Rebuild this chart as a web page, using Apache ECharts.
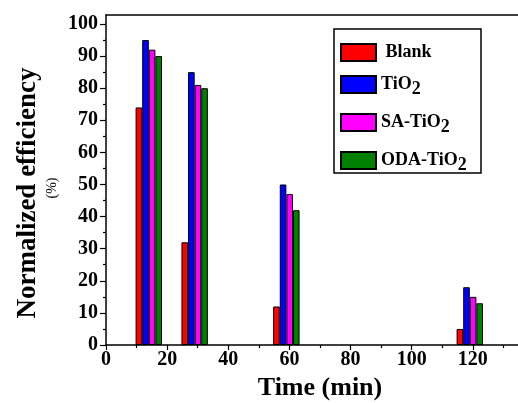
<!DOCTYPE html>
<html>
<head>
<meta charset="utf-8">
<script src="https://cdn.jsdelivr.net/npm/echarts@6/dist/echarts.min.js"></script>
<style>html,body{margin:0;padding:0;background:#fff;}#c{width:518px;height:403px;}</style>
</head>
<body>
<div id="c"></div>
<script>
// ---- data ----
const times = [14, 29, 59, 119];
const blank = [74, 32, 12, 5];
const tio2 = [95, 85, 50, 18];
const saTio2 = [92, 81, 47, 15];
const odaTio2 = [90, 80, 42, 13];
const seriesNames = ['Blank', 'TiO2', 'SA-TiO2', 'ODA-TiO2'];
const seriesColors = ['#ff0000', '#0000ff', '#ff00ff', '#008000'];
const yTicks = [0, 10, 20, 30, 40, 50, 60, 70, 80, 90, 100];
const yMinorTicks = [5, 15, 25, 35, 45, 55, 65, 75, 85, 95];
const xTickInterval = 20;

const FONT = '"Liberation Serif", "Times New Roman", serif';
const allValues = [blank, tio2, saTio2, odaTio2];

const chart = echarts.init(document.getElementById('c'), null, {renderer: 'canvas'});

function legendFmt(n) {
  if (n.endsWith('2')) return '{a|' + n.slice(0, -1) + '}{s|2}';
  return '{a| ' + n + '}';
}
const legendTops = [43, 75, 113, 151];

const option = {
  backgroundColor: '#fff',
  animation: false,
  grid: {left: 106, top: 15, width: 428, height: 330, containLabel: false, outerBoundsMode: 'none'},
  xAxis: [{
    type: 'value', min: 0, max: 140, interval: xTickInterval, position: 'bottom',
    name: 'Time (min)', nameLocation: 'middle', nameGap: 30,
    nameTextStyle: {fontFamily: FONT, fontWeight: 'bold', fontSize: 26, color: '#000'},
    axisLine: {show: true, lineStyle: {color: '#000', width: 1.5}},
    axisTick: {show: true, inside: false, length: 5, lineStyle: {color: '#000', width: 1.2}},
    minorTick: {show: true, splitNumber: 2, length: 3, lineStyle: {color: '#000', width: 1.2}},
    axisLabel: {fontFamily: FONT, fontWeight: 'bold', fontSize: 20, color: '#000', margin: 5},
    splitLine: {show: false}
  }, {
    type: 'value', min: 0, max: 140, position: 'top',
    axisLine: {show: true, onZero: false, lineStyle: {color: '#000', width: 1.5}},
    axisTick: {show: false}, axisLabel: {show: false}, splitLine: {show: false}
  }],
  yAxis: [{
    type: 'value', min: 0, max: 102.8, interval: 10, position: 'left',
    axisLine: {show: true, lineStyle: {color: '#000', width: 1.5}},
    axisTick: {show: true, inside: false, length: 6, customValues: yTicks, lineStyle: {color: '#000', width: 1.2}},
    axisLabel: {fontFamily: FONT, fontWeight: 'bold', fontSize: 20, color: '#000', margin: 8, customValues: yTicks},
    splitLine: {show: false}
  }, {
    type: 'value', min: 0, max: 102.8, position: 'left',
    axisLine: {show: false},
    axisTick: {show: true, inside: false, length: 3, customValues: yMinorTicks, lineStyle: {color: '#000', width: 1.2}},
    axisLabel: {show: false},
    splitLine: {show: false}
  }],
  legend: seriesNames.map((n, i) => ({
    data: [n], left: 340, top: legendTops[i], orient: 'vertical', padding: 0,
    itemWidth: 35, itemHeight: 17, icon: 'rect', selectedMode: false,
    formatter: legendFmt,
    textStyle: {
      color: '#000', fontFamily: FONT, fontWeight: 'bold', fontSize: 18,
      rich: {
        a: {fontFamily: FONT, fontWeight: 'bold', fontSize: 18, color: '#000'},
        s: {fontFamily: FONT, fontWeight: 'bold', fontSize: 18, color: '#000', padding: [9, 0, 0, 0]}
      }
    }
  })),
  graphic: [
    {type: 'rect', shape: {x: 334, y: 29, width: 147, height: 144}, style: {fill: 'none', stroke: '#000', lineWidth: 1.5}, z: 10},
    {type: 'text', x: 28, y: 193, rotation: Math.PI / 2,
     style: {text: 'Normalized efficiency', font: 'bold 27px ' + FONT, fill: '#000', align: 'center', verticalAlign: 'middle', textAlign: 'center', textVerticalAlign: 'middle'}},
    {type: 'text', x: 52, y: 188, rotation: Math.PI / 2,
     style: {text: '(%)', font: '14px ' + FONT, fill: '#000', align: 'center', verticalAlign: 'middle', textAlign: 'center', textVerticalAlign: 'middle'}}
  ],
  series: seriesNames.map((n, i) => ({
    name: n, type: 'bar', xAxisIndex: 0, yAxisIndex: 0,
    barWidth: 6.6, barGap: '0%',
    itemStyle: {color: seriesColors[i], borderColor: '#000', borderWidth: 1},
    data: times.map((t, k) => [t, allValues[i][k]])
  }))
};
chart.setOption(option);
</script>
</body>
</html>
